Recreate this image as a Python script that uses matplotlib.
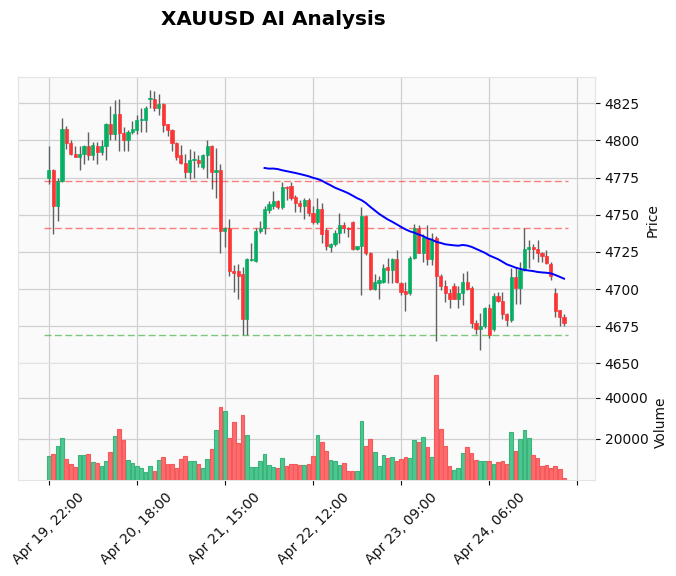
import numpy as np
import pandas as pd
import matplotlib
matplotlib.use("Agg")
import matplotlib.pyplot as plt
from matplotlib.collections import LineCollection

# ---------------- data (hourly XAUUSD candles) ----------------
opens = [4775, 4780, 4756, 4773, 4808, 4798, 4791, 4789, 4791, 4796,
         4790, 4796, 4792, 4796, 4811, 4804, 4818, 4805, 4800, 4806,
         4807, 4814, 4814, 4828, 4828, 4822, 4824.5, 4811, 4807, 4798,
         4790, 4785, 4779, 4787, 4787, 4782, 4790, 4796, 4779, 4780,
         4739, 4741, 4712, 4712, 4710, 4680, 4719.5, 4719, 4739, 4741,
         4753, 4756, 4759, 4755, 4768.5, 4769, 4762, 4758, 4756, 4760,
         4751, 4745, 4754, 4740, 4728.5, 4730, 4738, 4743, 4741, 4745,
         4727, 4729, 4749, 4724, 4700, 4704, 4705, 4714.5, 4713, 4720,
         4704, 4698.5, 4697, 4721, 4741, 4724, 4734, 4720, 4734, 4709,
         4702, 4697, 4702, 4693, 4697, 4705, 4701, 4677, 4673, 4675,
         4687, 4673, 4695, 4692, 4683, 4679, 4708, 4701, 4713, 4727,
         4728, 4727, 4724, 4722, 4717, 4697, 4686, 4681]
highs = [4796, 4781, 4775, 4815, 4810, 4800, 4796, 4796, 4797, 4806,
         4799, 4799, 4800, 4812, 4823, 4827, 4828, 4809, 4807, 4813,
         4817, 4822, 4823, 4834, 4833, 4831, 4825, 4811, 4808, 4799,
         4797, 4791, 4794, 4793, 4790, 4791, 4800, 4797, 4795, 4784,
         4742, 4747, 4716, 4717, 4715, 4721, 4731, 4741, 4746, 4756,
         4759, 4766, 4760, 4772, 4769, 4772, 4763, 4760, 4761, 4761,
         4756, 4761, 4758, 4741, 4731, 4740, 4751, 4745, 4742, 4746,
         4729, 4755, 4750, 4725, 4710, 4709, 4717, 4721, 4721, 4726,
         4705, 4705, 4722, 4744, 4743, 4737, 4743, 4738, 4736, 4710,
         4706, 4700, 4704, 4702, 4711, 4712, 4702, 4679, 4684, 4688,
         4690, 4697, 4698, 4698, 4684, 4714, 4715, 4718, 4741, 4733,
         4730, 4733, 4725, 4726, 4718, 4701, 4686, 4683]
lows = [4771, 4737, 4746, 4772, 4794, 4790, 4789, 4780, 4784, 4787,
        4787, 4784, 4790, 4787, 4800, 4800, 4793, 4793, 4793, 4804,
        4804, 4806, 4806, 4822, 4820, 4817, 4806, 4803, 4793, 4787,
        4784, 4775, 4774, 4775, 4782, 4781, 4775, 4767, 4761, 4724,
        4728, 4709, 4698, 4693, 4669, 4669, 4719, 4718, 4738, 4737,
        4751, 4754, 4754, 4754, 4760, 4760, 4752, 4752, 4747, 4749,
        4744, 4744, 4731, 4726, 4725, 4729, 4731, 4738, 4735, 4726,
        4726, 4696, 4723, 4699, 4699, 4693, 4704, 4704, 4704, 4704,
        4696, 4685, 4696, 4720, 4724, 4718, 4716, 4716, 4665, 4699,
        4691, 4687, 4693, 4687, 4689, 4699, 4674, 4670, 4659, 4674,
        4667, 4672, 4691, 4680, 4675, 4678, 4690, 4690, 4712, 4714,
        4720, 4718, 4718, 4717, 4706, 4681, 4675, 4675]
closes = [4780, 4756, 4773, 4808, 4798, 4791, 4789, 4791, 4796, 4790,
          4797, 4792, 4796, 4811, 4804, 4818, 4805, 4800, 4806, 4808,
          4814, 4814.5, 4822, 4828.5, 4822, 4824.5, 4810.5, 4807, 4798, 4789,
          4785, 4779, 4787, 4787.5, 4785, 4790, 4796, 4779, 4780, 4739,
          4741, 4712, 4711, 4709, 4680, 4720, 4720.5, 4739, 4741, 4754,
          4757, 4759, 4755, 4768.5, 4768, 4761, 4758, 4756, 4760, 4751,
          4745, 4754, 4737, 4729, 4730, 4738, 4743, 4741, 4740.5, 4727,
          4729, 4749, 4724, 4700, 4705, 4706, 4714, 4713, 4720, 4704.5,
          4698, 4696.5, 4721, 4741, 4724.5, 4735, 4720, 4733, 4709, 4702,
          4697, 4693, 4693.3, 4697, 4705, 4700, 4677, 4673, 4675, 4687,
          4669, 4695, 4692, 4683, 4679, 4708, 4701, 4713, 4727, 4728,
          4727, 4724, 4722, 4717.5, 4709, 4685.5, 4681, 4677]
volumes = [11770, 12740, 16610, 20490, 10320, 7890, 6440, 12250, 12250, 12740,
           8860, 8380, 6930, 9350, 13700, 21450, 24840, 19520, 9830, 8380,
           6930, 5960, 4020, 6930, 4500, 9830, 11280, 7890, 7890, 5960,
           10320, 11770, 9350, 9350, 7890, 5960, 10320, 15160, 24360, 35500,
           33560, 20490, 28230, 18060, 31620, 21940, 6440, 6440, 9350, 12740,
           7410, 6440, 5960, 10800, 6930, 7890, 7890, 7410, 7410, 7890,
           11770, 21940, 18550, 14190, 9830, 9350, 7410, 8380, 4500, 4500,
           4500, 28720, 16610, 20000, 13700, 6930, 12250, 10800, 11280, 9350,
           10320, 11280, 10800, 19520, 18550, 20970, 16130, 11280, 51000, 24840,
           16610, 6930, 4990, 5960, 13220, 16130, 13220, 9830, 9350, 9350,
           9350, 7890, 8860, 9350, 7890, 23390, 14190, 20000, 24360, 20490,
           12250, 10800, 6930, 7410, 5960, 6930, 5470, 1110]
hline_red = [4773, 4741.3]
hline_green = [4669]
mav_period = 50
tick_positions = [0, 20, 40, 60, 80, 100, 120]
tick_labels = ["Apr 19, 22:00", "Apr 20, 18:00", "Apr 21, 15:00",
               "Apr 22, 12:00", "Apr 23, 09:00", "Apr 24, 06:00", ""]
title = "XAUUSD AI Analysis"

# ---------------- styling ----------------
UP, DOWN = "#00b060", "#fe3032"
WICK = "#606060"
VUP, VDOWN = "#4dc790", "#fd6b6c"
VUP_E, VDOWN_E = "#3bb47c", "#f45a5b"
FACE = "#fafafa"
GRID = "#d0d0d0"

o = np.array(opens, float); h = np.array(highs, float)
l = np.array(lows, float); c = np.array(closes, float)
v = np.array(volumes, float)
n = len(c)
x = np.arange(n)

fig = plt.figure(figsize=(6.76, 5.76), dpi=100)
fig.patch.set_facecolor("white")
axp = fig.add_axes([0.02663, 0.36927, 0.85355, 0.49705])
axv = fig.add_axes([0.02663, 0.16615, 0.85355, 0.20313], sharex=axp)

for ax in (axp, axv):
    ax.set_facecolor(FACE)
    ax.grid(True, color=GRID, lw=0.9, ls="-")
    ax.set_axisbelow(True)
    for s in ax.spines.values():
        s.set_color("#e4e4e4")
        s.set_linewidth(0.8)
    ax.yaxis.tick_right()
    ax.yaxis.set_label_position("right")
    ax.tick_params(colors="#101010", labelsize=10)

# candles
up = c >= o
segs = [((xi, lo), (xi, hi)) for xi, lo, hi in zip(x, l, h)]
axp.add_collection(LineCollection(segs, colors=WICK, linewidths=1.0, zorder=2))
body_h = np.maximum(np.abs(c - o), 0.35)
body_b = np.minimum(o, c)
colors = np.where(up, UP, DOWN)
axp.bar(x, body_h, bottom=body_b, width=0.72, color=colors,
        edgecolor=colors, linewidth=0.5, alpha=0.95, zorder=3)

# moving average
mav = pd.Series(c).rolling(mav_period).mean().values
axp.plot(x, mav, color="#0000ff", lw=1.4, zorder=4)

# horizontal levels
axp.hlines(hline_red, -1, n, colors="red", linestyles=(0, (5, 2.5)),
           linewidth=1.0, alpha=0.5, zorder=2.5)
axp.hlines(hline_green, -1, n, colors="#2aa52a", linestyles=(0, (5, 2.5)),
           linewidth=1.0, alpha=0.6, zorder=2.5)

# volume (colour by change of close vs previous close)
prev = np.concatenate([[o[0]], c[:-1]])
vup = c >= prev
axv.bar(x, v, width=0.85, color=np.where(vup, VUP, VDOWN),
        edgecolor=np.where(vup, VUP_E, VDOWN_E), linewidth=0.8, zorder=3)

# axes limits / ticks
axp.set_xlim(-6.97, 124.03)
axp.set_ylim(4650.0, 4842.7)
axp.set_yticks(np.arange(4650, 4826, 25))
axp.tick_params(axis="x", bottom=False, labelbottom=False)
axp.set_ylabel("Price", fontsize=10, color="#101010")

axv.set_ylim(0, 56660)
axv.set_yticks([20000, 40000])
axv.set_yticklabels(["20000", "40000"])
axv.set_xticks(tick_positions)
axv.set_xticklabels(tick_labels, rotation=45)
axv.set_ylabel("Volume", fontsize=10, color="#101010")

fig.text(0.404, 0.967, title, fontsize=14.4, fontweight="bold",
         ha="center", va="center")

fig.savefig("out.png", dpi=100, facecolor="white")
